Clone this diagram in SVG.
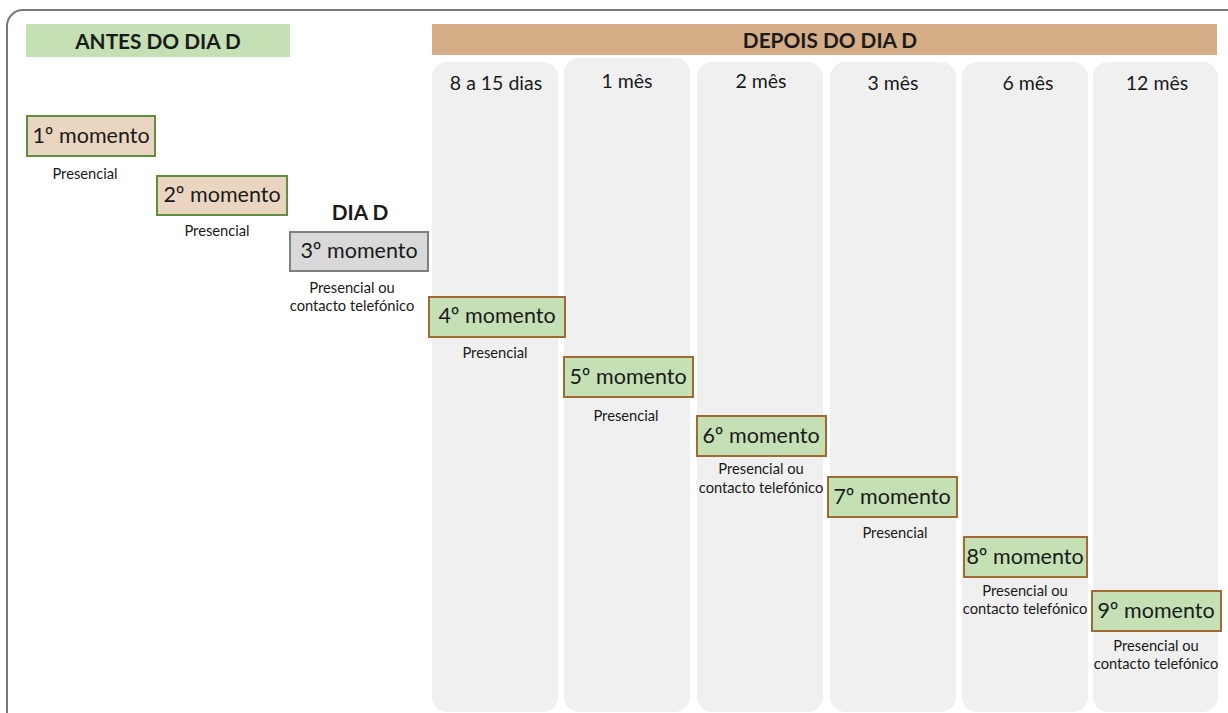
<svg xmlns="http://www.w3.org/2000/svg" width="1228" height="713" viewBox="0 0 1228 713">
  <style>
    text { font-family: Lato, "Open Sans", sans-serif; fill: #1a1a1a; }
    .hdr { font-size: 20.8px; font-weight: bold; text-anchor: middle; }
    .col { font-size: 19.5px; text-anchor: middle; }
    .box { font-size: 21.5px; text-anchor: middle; }
    .lbl { font-size: 14.7px; text-anchor: middle; }
    .lane { fill: #f0f0f0; }
    .pre { fill: #ead6c0; stroke: #5f8f3e; stroke-width: 2; }
    .post { fill: #c5e0b4; stroke: #a06a32; stroke-width: 2; }
    .day { fill: #d9d9d9; stroke: #7f7f7f; stroke-width: 2; }
  </style>

  <rect width="1228" height="713" fill="#ffffff"/>
  <!-- outer frame -->
  <rect x="7" y="10" width="1235" height="730" rx="16" fill="none" stroke="#777777" stroke-width="2"/>

  <!-- phase headers -->
  <g id="antes">
    <rect x="26" y="24" width="264" height="33" fill="#c5e0b4"/>
    <text class="hdr" x="158" y="49">ANTES DO DIA D</text>
  </g>
  <g id="depois">
    <rect x="432" y="24" width="785" height="31" fill="#d5ad86"/>
    <text class="hdr" x="830" y="48">DEPOIS DO DIA D</text>
  </g>

  <!-- time lanes -->
  <g id="lanes">
    <rect class="lane" x="432" y="62" width="126" height="650" rx="15"/>
    <rect class="lane" x="564" y="58" width="126" height="654" rx="15"/>
    <rect class="lane" x="697" y="62" width="126" height="650" rx="15"/>
    <rect class="lane" x="830" y="62" width="126" height="650" rx="15"/>
    <rect class="lane" x="962" y="62" width="126" height="650" rx="15"/>
    <rect class="lane" x="1093" y="62" width="125" height="650" rx="15"/>
    <text class="col" x="496" y="90">8 a 15 dias</text>
    <text class="col" x="627" y="88">1 mês</text>
    <text class="col" x="761" y="88">2 mês</text>
    <text class="col" x="893" y="90">3 mês</text>
    <text class="col" x="1028" y="90">6 mês</text>
    <text class="col" x="1157" y="90">12 mês</text>
  </g>

  <g id="m1">
    <rect class="pre" x="27" y="116" width="128" height="40"/>
    <text class="box" x="91" y="143">1º momento</text>
    <text class="lbl" x="85" y="179">Presencial</text>
  </g>
  <g id="m2">
    <rect class="pre" x="157" y="176" width="130" height="39"/>
    <text class="box" x="222" y="202">2º momento</text>
    <text class="lbl" x="217" y="236">Presencial</text>
  </g>
  <g id="m3">
    <text class="hdr" x="360" y="220">DIA D</text>
    <rect class="day" x="290" y="232" width="138" height="39"/>
    <text class="box" x="359" y="258">3º momento</text>
    <text class="lbl" x="352" y="293">Presencial ou</text>
    <text class="lbl" x="352" y="311">contacto telefónico</text>
  </g>
  <g id="m4">
    <rect class="post" x="429" y="297" width="136" height="40"/>
    <text class="box" x="497" y="323">4º momento</text>
    <text class="lbl" x="495" y="358">Presencial</text>
  </g>
  <g id="m5">
    <rect class="post" x="564" y="357" width="129" height="40"/>
    <text class="box" x="628" y="384">5º momento</text>
    <text class="lbl" x="626" y="421">Presencial</text>
  </g>
  <g id="m6">
    <rect class="post" x="697" y="416" width="129" height="40"/>
    <text class="box" x="761" y="443">6º momento</text>
    <text class="lbl" x="761" y="474">Presencial ou</text>
    <text class="lbl" x="761" y="493">contacto telefónico</text>
  </g>
  <g id="m7">
    <rect class="post" x="828" y="477" width="129" height="40"/>
    <text class="box" x="892" y="504">7º momento</text>
    <text class="lbl" x="895" y="538">Presencial</text>
  </g>
  <g id="m8">
    <rect class="post" x="964" y="537" width="123" height="40"/>
    <text class="box" x="1025" y="564">8º momento</text>
    <text class="lbl" x="1025" y="596">Presencial ou</text>
    <text class="lbl" x="1025" y="614">contacto telefónico</text>
  </g>
  <g id="m9">
    <rect class="post" x="1092" y="591" width="129" height="40"/>
    <text class="box" x="1156" y="618">9º momento</text>
    <text class="lbl" x="1156" y="651">Presencial ou</text>
    <text class="lbl" x="1156" y="669">contacto telefónico</text>
  </g>

  <!-- no connectors are drawn between the moments -->
  <g id="connectors"/>
</svg>
